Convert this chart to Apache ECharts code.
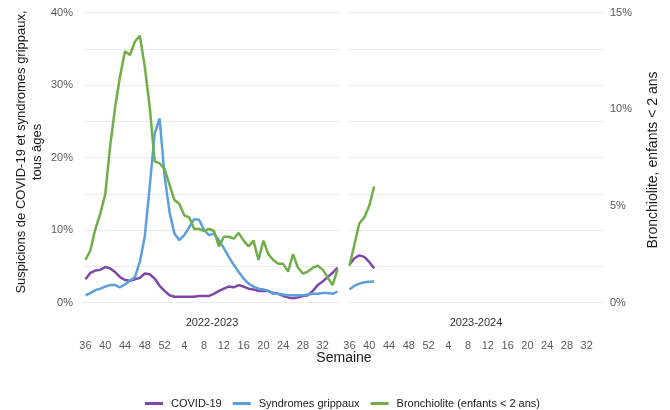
<!DOCTYPE html>
<html><head><meta charset="utf-8">
<script src="https://cdn.jsdelivr.net/npm/echarts@6/dist/echarts.min.js"></script>
<style>html,body{margin:0;padding:0;background:#fff}#c{width:670px;height:410px}</style>
</head><body><div id="c"></div>
<script>
const weeks = ['36','37','38','39','40','41','42','43','44','45','46','47','48','49','50','51','52',
  '1','2','3','4','5','6','7','8','9','10','11','12','13','14','15','16','17','18','19','20',
  '21','22','23','24','25','26','27','28','29','30','31','32','33','34','35'];
const seasons = ['2022-2023', '2023-2024'];
const seriesNames = ['COVID-19', 'Syndromes grippaux', 'Bronchiolite (enfants < 2 ans)'];

const covid2223 = [3.2,4.1,4.4,4.5,4.9,4.7,4.2,3.5,3.1,3.0,3.2,3.4,4.0,3.9,3.3,2.3,1.6,1.0,0.8,0.8,0.8,0.8,0.8,0.9,0.9,0.9,1.2,1.6,1.9,2.2,2.1,2.4,2.2,1.9,1.8,1.6,1.6,1.6,1.3,1.2,0.9,0.7,0.6,0.7,0.9,1.0,1.6,2.4,2.9,3.5,4.1,4.8];
const grippe2223 = [1.0,1.3,1.7,1.9,2.2,2.4,2.4,2.1,2.5,3.0,3.5,5.6,9.1,16.0,23.3,25.4,17.5,12.5,9.5,8.6,9.3,10.4,11.5,11.4,10.0,9.3,9.5,8.6,7.5,6.3,5.2,4.2,3.3,2.6,2.2,1.9,1.8,1.6,1.2,1.2,1.1,1.0,1.0,1.0,1.0,1.1,1.2,1.2,1.3,1.3,1.2,1.5];
const bronchio2223 = [2.2,2.7,3.8,4.6,5.6,8.1,10.1,11.7,13.0,12.8,13.5,13.8,12.2,10.1,7.3,7.2,6.9,6.1,5.3,5.1,4.5,4.4,3.8,3.8,3.7,3.8,3.7,2.9,3.4,3.4,3.3,3.6,3.2,2.9,3.2,2.2,3.2,2.5,2.2,2.0,2.0,1.6,2.5,1.8,1.5,1.6,1.8,1.9,1.7,1.3,0.9,1.7];

const covid2324 = [5.2,6.1,6.5,6.3,5.6,4.7];
const grippe2324 = [1.8,2.3,2.6,2.8,2.85,2.9];
const bronchio2324 = [1.9,3.0,4.1,4.4,5.0,6.0];

const leftTicks = { min: 0, max: 40, interval: 5 };
const rightTicks = { min: 0, max: 15, interval: 5 };
const leftTitle = 'Suspicions de COVID-19 et syndromes grippaux,\ntous âges';
const rightTitle = 'Bronchiolite, enfants < 2 ans';
const xTitle = 'Semaine';

const colors = ['#7e48ab', '#5c9fdc', '#70ae48'];
const FONT = 'Liberation Sans, Arial, sans-serif';
const grid = '#ebebeb';

function xAx(i) {
  return {
    type: 'category', gridIndex: i, data: weeks, boundaryGap: true,
    axisLine: { show: false }, axisTick: { show: false },
    axisLabel: { interval: 3, margin: 38, fontSize: 11, color: '#595959', fontFamily: FONT },
    splitLine: { show: false }
  };
}
function leftY(i, showLabels) {
  return {
    type: 'value', gridIndex: i, position: 'left',
    min: leftTicks.min, max: leftTicks.max, interval: leftTicks.interval,
    axisLine: { show: false }, axisTick: { show: false },
    axisLabel: { show: showLabels, margin: 10, fontSize: 11, color: '#595959', fontFamily: FONT,
      formatter: v => (v % 10 === 0 ? v + '%' : '') },
    splitLine: { show: true, lineStyle: { color: grid, width: 1 } }
  };
}
function rightY(i, showLabels) {
  return {
    type: 'value', gridIndex: i, position: 'right',
    min: rightTicks.min, max: rightTicks.max, interval: rightTicks.interval,
    axisLine: { show: false }, axisTick: { show: false },
    axisLabel: { show: showLabels, margin: 6, fontSize: 11, color: '#595959', fontFamily: FONT,
      formatter: v => v + '%' },
    splitLine: { show: false }
  };
}
function line(name, xi, yi, data, color) {
  return {
    name: name, type: 'line', xAxisIndex: xi, yAxisIndex: yi, data: data,
    showSymbol: false, symbol: 'none', smooth: false, animation: false,
    lineStyle: { color: color, width: 2.5 }, itemStyle: { color: color }
  };
}
function txt(text, x, y, size, color, rot, lh) {
  return {
    type: 'text', x: x, y: y, rotation: rot || 0,
    style: { text: text, fill: color, font: size + 'px ' + FONT, fontSize: size, fontFamily: FONT,
      textAlign: 'center', textVerticalAlign: 'middle', align: 'center', verticalAlign: 'middle',
      lineHeight: lh || size * 1.2 }
  };
}

const chart = echarts.init(document.getElementById('c'), null, { renderer: 'canvas' });
chart.setOption({
  backgroundColor: '#fff',
  animation: false,
  textStyle: { fontFamily: FONT },
  grid: [
    { left: 83, top: 12.5, width: 257, height: 290 },
    { left: 347, top: 12.5, width: 257, height: 290 }
  ],
  xAxis: [xAx(0), xAx(1)],
  yAxis: [leftY(0, true), rightY(0, false), leftY(1, false), rightY(1, true)],
  legend: {
    top: 393, left: 140, itemWidth: 18, itemHeight: 3, itemGap: 11, icon: 'rect',
    data: seriesNames,
    textStyle: { fontSize: 11, color: '#1a1a1a', fontFamily: FONT, padding: [0, 0, 0, 3] }
  },
  graphic: [
    txt(seasons[0], 212, 323, 11, '#333'),
    txt(seasons[1], 476, 323, 11, '#333'),
    txt(xTitle, 344, 358, 14, '#1a1a1a'),
    txt(leftTitle, 29, 152, 13, '#1a1a1a', Math.PI / 2, 16),
    txt(rightTitle, 653, 160, 14, '#1a1a1a', Math.PI / 2)
  ],
  series: [
    line(seriesNames[0], 0, 0, covid2223, colors[0]),
    line(seriesNames[1], 0, 0, grippe2223, colors[1]),
    line(seriesNames[2], 0, 1, bronchio2223, colors[2]),
    line(seriesNames[0], 1, 2, covid2324, colors[0]),
    line(seriesNames[1], 1, 2, grippe2324, colors[1]),
    line(seriesNames[2], 1, 3, bronchio2324, colors[2])
  ]
});
</script>
</body></html>
